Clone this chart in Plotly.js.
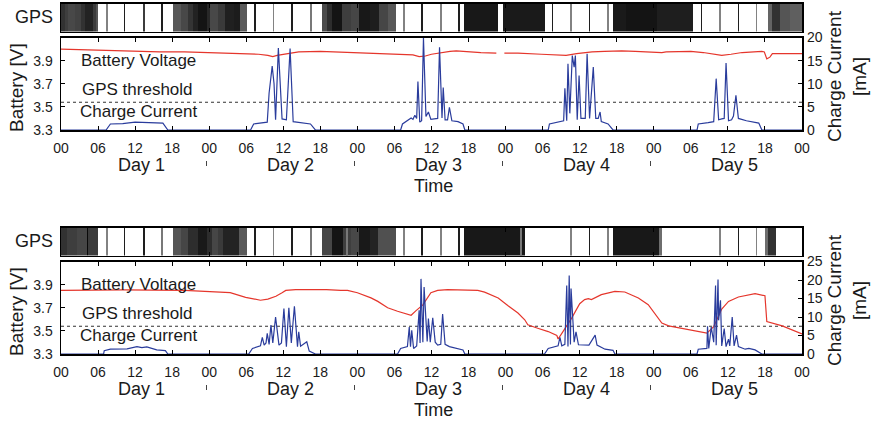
<!DOCTYPE html>
<html>
<head>
<meta charset="utf-8">
<script src="https://cdn.plot.ly/plotly-3.0.1.min.js"></script>
<style>html,body{margin:0;padding:0;background:#fff;}#chart{width:875px;height:421px;}</style>
</head>
<body>
<div id="chart"></div>
<script>
// ---------- DATA ----------
const hourLabels = ['00', '06', '12', '18'];
const dayNames = ['Day 1', 'Day 2', 'Day 3', 'Day 4', 'Day 5'];
const voltTicks = [3.3, 3.5, 3.7, 3.9];
const gpsThreshold = 3.54;

// GPS activity strip (top panel): dark blocks [start, end] in hours, grey level
const topBlockStart = [0, 0.6, 1.1, 2.2, 3.3, 3.9, 5.2, 5.6, 18.1, 19.4, 20.6, 21.4, 22.25, 23.6, 24.14, 25.4, 26.6, 28.0, 29.0, 42.2, 43.1, 43.9, 45.5, 47.0, 48.2, 50.0, 51.5, 53.0, 65.3, 71.5, 89.4, 91.5, 96.5, 114.5, 115.1, 116.4, 118.0];
const topBlockEnd   = [0.6, 1.1, 2.2, 3.3, 3.9, 5.2, 5.6, 6.0, 19.4, 20.6, 21.4, 22.25, 23.6, 24.14, 25.4, 26.6, 28.0, 29.0, 30.1, 43.1, 43.9, 45.5, 47.0, 48.2, 50.0, 51.5, 53.0, 54.2, 70.8, 78.3, 91.5, 96.5, 102.4, 115.1, 116.4, 118.0, 120];
const topBlockGray  = [50, 62, 72, 66, 50, 35, 60, 85, 88, 72, 52, 34, 20, 40, 72, 58, 32, 28, 90, 75, 45, 20, 62, 70, 24, 30, 70, 88, 24, 26, 26, 20, 30, 100, 50, 85, 95];
// short GPS fixes (thin lines)
const topFixTime = [7.4, 10.3, 13.4, 16.4, 31.4, 34.4, 37.4, 40.5, 55.5, 58.5, 61.5, 64.5, 79.6, 82.6, 85.6, 88.6, 103.7, 106.7, 109.7, 112.6];
const topFixGray = [130, 30, 60, 30, 30, 130, 30, 120, 130, 30, 130, 30, 30, 130, 30, 130, 30, 130, 30, 130];

// GPS activity strip (bottom panel)
const botBlockStart = [0, 1.0, 2.6, 4.3, 18.1, 19.4, 20.6, 22.2, 23.6, 24.4, 25.4, 26.3, 28.9, 42.3, 43.9, 45.6, 47.0, 48.2, 50.0, 51.4, 65.3, 89.4, 96.9, 114.0, 114.5];
const botBlockEnd   = [1.0, 2.6, 4.2, 6.0, 19.4, 20.6, 22.2, 23.6, 24.4, 25.4, 26.3, 28.9, 30.1, 43.9, 45.6, 47.0, 48.2, 50.0, 51.4, 54.2, 75.1, 96.9, 97.3, 114.5, 115.8];
const botBlockGray  = [50, 62, 70, 60, 85, 70, 45, 25, 45, 70, 58, 35, 90, 70, 20, 62, 72, 25, 35, 80, 24, 24, 110, 110, 50];
const botFixTime = [4.27, 7.4, 10.3, 13.4, 16.4, 31.4, 34.4, 37.4, 40.5, 46.3, 55.5, 58.5, 61.5, 64.5, 74.5, 82.6, 85.6, 88.6, 106.7, 109.7, 112.6];
const botFixGray = [10, 130, 30, 30, 120, 30, 130, 30, 120, 120, 130, 30, 130, 30, 120, 130, 30, 130, 130, 30, 130];

// Top panel battery voltage [V]
const topVoltHours = [0, 3, 6, 10, 13, 16, 20, 23, 27.5, 30, 32, 33.5, 34.3, 35, 36, 38.5, 42, 45, 47, 50, 52, 55, 57, 58, 59, 60, 61.5, 63, 64, 66, 68, 70.5, 71.1, 71.8, 74, 77.8, 80, 81.8, 83.5, 86, 88, 90.8, 93, 95, 97.3, 98, 102, 104, 106, 107, 108.5, 110.3, 113.5, 113.9, 114.3, 114.8, 115.2, 117, 120];
const topVoltValues = [4.0, 3.995, 3.99, 3.985, 3.98, 3.975, 3.975, 3.97, 3.965, 3.96, 3.955, 3.945, 3.935, 3.945, 3.955, 3.975, 3.98, 3.975, 3.97, 3.965, 3.96, 3.955, 3.95, 3.935, 3.94, 3.955, 3.97, 3.98, 3.985, 3.975, 3.97, 3.965, null, 3.965, 3.965, 3.955, 3.95, 3.945, 3.96, 3.975, 3.98, 3.985, 3.98, 3.975, 3.97, 3.975, 3.98, 3.97, 3.95, 3.945, 3.955, 3.97, 3.98, 3.975, 3.915, 3.93, 3.96, 3.96, 3.96];

// Top panel charge current [mA]
const topCurrHours = [0, 7.3, 8.0, 10, 12, 14, 16.5, 17.3,
  30.7, 31.2, 32.8, 33.4, 33.7, 34.2, 34.5, 34.75, 35.2, 35.8, 36.5, 37.1, 37.6, 39, 40.4, 41.2,
  55.0, 55.3, 56.3, 56.7, 57.0, 57.3, 57.6, 57.8, 58.1, 58.4, 58.7, 59.1, 59.5, 59.9, 61.0, 61.3, 61.7, 61.9, 62.2, 62.6, 62.9, 63.3, 64.3, 65.1, 65.4,
  78.9, 79.1, 79.9, 80.8, 81.4, 81.6, 81.9, 82.1, 82.4, 82.8, 83.1, 83.3, 83.6, 83.9, 84.2, 84.9, 85.2, 85.6, 86.2, 86.6, 87.0, 87.3, 87.5, 88.6, 89.4,
  103.0, 103.2, 104.8, 105.7, 106.1, 106.5, 107.0, 107.4, 107.7, 108.1, 108.6, 108.9, 109.3, 109.7, 111, 113.0, 113.5, 120];
const topCurrValues = [0, 0, 1.3, 1.4, 1.7, 1.6, 1.5, 0,
  0, 1.3, 1.5, 1.7, 8, 13.8, 10, 2.2, 17.7, 2.4, 2.2, 17.6, 1.8, 1.5, 1.3, 0,
  0, 1.3, 2.2, 2.6, 2.3, 3.2, 2.5, 10.5, 1.7, 2.0, 19.9, 2.9, 3.9, 2.3, 2.5, 17.9, 2.6, 9.2, 2.2, 2.2, 4.9, 2.0, 1.8, 1.3, 0,
  0, 1.3, 1.5, 1.7, 2.0, 9.0, 2.0, 14.3, 3.6, 16.1, 13.6, 16.1, 2.2, 11.8, 2.5, 2.5, 16.5, 2.5, 13.6, 2.5, 2.5, 3.9, 1.8, 1.3, 0,
  0, 1.3, 1.6, 1.8, 11.1, 2.2, 2.4, 2.5, 14.5, 2.0, 2.2, 3.0, 7.5, 2.5, 2.0, 1.5, 0, 0];

// Bottom panel battery voltage [V]
const botVoltHours = [0, 10, 20, 25, 27.4, 29.9, 31, 32.3, 33.5, 34.8, 35.8, 36.4, 38, 43, 45.3, 46.4, 48, 50.2, 51.3, 52.9, 54.5, 56.4, 56.7, 57.5, 58.6, 59.9, 61, 62.6, 67.5, 68.6, 70.8, 72.4, 74, 75.1, 75.6, 77.2, 78.9, 80.3, 80.5, 81, 82.7, 84, 84.8, 85.4, 85.9, 87.5, 89.7, 91.3, 93.5, 95.1, 97.3, 98.4, 100.5, 102.7, 104.6, 105.7, 107, 108.1, 109.7, 112.4, 114, 114.3, 116.8, 120];
const botVoltValues = [3.85, 3.855, 3.85, 3.84, 3.83, 3.79, 3.78, 3.765, 3.775, 3.80, 3.83, 3.85, 3.857, 3.857, 3.85, 3.85, 3.83, 3.785, 3.755, 3.70, 3.67, 3.645, 3.635, 3.675, 3.725, 3.83, 3.85, 3.857, 3.85, 3.835, 3.785, 3.717, 3.654, 3.596, 3.552, 3.523, 3.494, 3.46, 3.43, 3.47, 3.61, 3.735, 3.77, 3.778, 3.77, 3.813, 3.842, 3.836, 3.784, 3.726, 3.567, 3.543, 3.523, 3.503, 3.48, 3.537, 3.689, 3.755, 3.793, 3.822, 3.804, 3.581, 3.543, 3.474];

// Bottom panel charge current [mA]
const botCurrHours = [0, 6.9, 7.0, 8, 10.7, 12.3, 13.1, 13.9, 15.5, 16.9, 17.3,
  30.4, 31.0, 32.0, 32.3, 32.6, 32.9, 33.2, 33.4, 33.7, 34.0, 34.3, 34.75, 35.3, 35.7, 36.1, 36.5, 36.9, 37.3, 37.8, 38.3, 38.5, 38.8, 39.3, 39.8, 40.2, 41.2,
  54.5, 55.0, 56.1, 56.4, 56.6, 56.8, 57.1, 57.6, 58.0, 58.15, 58.3, 58.6, 58.8, 59.3, 59.5, 59.8, 60.2, 60.6, 61.0, 61.5, 61.8, 62.2, 62.9, 64.3, 65.1, 65.4,
  78.3, 78.9, 80.5, 80.8, 81.1, 81.6, 81.9, 82.1, 82.3, 82.5, 82.6, 83.1, 83.4, 83.8, 84.5, 85.5, 86.5, 86.8, 88.1, 89.4, 89.7,
  103.0, 103.2, 104.6, 104.7, 104.9, 105.3, 105.7, 106.0, 106.1, 106.4, 106.5, 106.8, 107.0, 107.4, 107.7, 108.1, 108.3, 108.7, 109.0, 109.4, 109.7, 110.8, 111.4, 112.4, 113.5, 120];
const botCurrValues = [0, 0, 0.9, 1.3, 1.4, 2.0, 1.7, 1.9, 1.1, 0.9, 0,
  0, 1.5, 2.0, 2.2, 4.5, 2.4, 3.0, 5.6, 2.6, 7.8, 3.0, 10, 2.4, 3.0, 12.3, 2.0, 12.5, 3.0, 12.9, 2.0, 6.0, 2.1, 2.7, 3.3, 0.8, 0,
  0, 1.5, 2.0, 7.3, 2.0, 6.4, 1.5, 2.2, 11.8, 3.0, 20.3, 3.2, 18.1, 3.4, 9.6, 3.2, 9.8, 3.2, 2.4, 2.6, 10.8, 2.6, 2.0, 1.5, 1.1, 0,
  0, 1.5, 2.2, 4.5, 2.2, 2.6, 18.5, 2.0, 21.2, 2.6, 17.7, 3.2, 6.0, 2.5, 2.4, 2.4, 5.1, 2.4, 1.3, 1.0, 0,
  0, 1.3, 1.5, 7.5, 1.5, 7.3, 3.2, 18.5, 2.4, 20.1, 9.1, 14.5, 2.2, 6.9, 2.0, 4.0, 2.2, 10.0, 2.2, 5.1, 2.0, 1.3, 1.5, 1.1, 0, 0];

// ---------- LAYOUT HELPERS ----------
const W = 875, H = 421;
const px = p => p / W;
const py = p => 1 - p / H;
const FONT = 'Liberation Sans, Arial, Helvetica, sans-serif';
const INK = '#1a1a1a';
const RED = '#e5362c';
const BLUE = '#2a3c9c';
const PANEL_SHIFT = 224; // vertical offset (px) between the two panels

const hourTickVals = [];
const hourTickText = [];
for (let h = 0; h <= 120; h += 6) { hourTickVals.push(h); hourTickText.push(hourLabels[(h / 6) % hourLabels.length]); }
const dayBoundaries = dayNames.map((_, i) => i).concat([dayNames.length]);

function gray(g) { return 'rgb(' + g + ',' + g + ',' + g + ')'; }

function stripTraces(bs, be, bg, ft, fg, xa, ya) {
  const fixLen = 0.26;
  return [
    { type: 'bar', orientation: 'h', base: bs, x: be.map((e, i) => e - bs[i]), y: bs.map(() => 0), width: 1,
      marker: { color: bg.map(gray), line: { width: 0 } }, xaxis: xa, yaxis: ya, hoverinfo: 'skip' },
    { type: 'bar', orientation: 'h', base: ft.map(t => t - fixLen / 2), x: ft.map(() => fixLen), y: ft.map(() => 0), width: 1,
      marker: { color: fg.map(gray), line: { width: 0 } }, xaxis: xa, yaxis: ya, hoverinfo: 'skip' }
  ];
}

function mainTraces(vh, vv, ch, cv, xa, yl, yr) {
  return [
    { type: 'scatter', mode: 'lines', x: [0, 120], y: [gpsThreshold, gpsThreshold], xaxis: xa, yaxis: yl,
      line: { color: '#333', width: 1.1, dash: 'dot' }, hoverinfo: 'skip' },
    { type: 'scatter', mode: 'lines', x: vh, y: vv, xaxis: xa, yaxis: yl, connectgaps: false,
      line: { color: RED, width: 1.2 }, hoverinfo: 'skip' },
    { type: 'scatter', mode: 'lines', x: ch, y: cv, xaxis: xa, yaxis: yr,
      line: { color: BLUE, width: 1.2 }, hoverinfo: 'skip' }
  ];
}

const data = [].concat(
  stripTraces(topBlockStart, topBlockEnd, topBlockGray, topFixTime, topFixGray, 'x', 'y'),
  mainTraces(topVoltHours, topVoltValues, topCurrHours, topCurrValues, 'x2', 'y2', 'y3'),
  stripTraces(botBlockStart, botBlockEnd, botBlockGray, botFixTime, botFixGray, 'x3', 'y4'),
  mainTraces(botVoltHours, botVoltValues, botCurrHours, botCurrValues, 'x4', 'y5', 'y6'),
  [{ type: 'scatter', mode: 'markers', x: [0], y: [0], xaxis: 'x5', yaxis: 'y2', marker: { opacity: 0 }, hoverinfo: 'skip' },
   { type: 'scatter', mode: 'markers', x: [0], y: [0], xaxis: 'x6', yaxis: 'y5', marker: { opacity: 0 }, hoverinfo: 'skip' }]
);

const xDom = [px(61), px(802)];
const frame = { showline: true, linecolor: '#000', linewidth: 1.5, mirror: true, showgrid: false, zeroline: false, fixedrange: true };
const tickFont = { family: FONT, size: 14, color: INK };

function stripX(anchor) {
  return Object.assign({}, frame, { domain: xDom, anchor: anchor, range: [0, 120], tickvals: [24, 48, 72, 96],
    ticks: 'inside', ticklen: 4, tickwidth: 1, tickcolor: '#000', mirror: 'ticks', showticklabels: false });
}
function stripY(anchor, top) {
  return Object.assign({}, frame, { domain: [py(top + 28), py(top)], anchor: anchor, range: [-0.5, 0.5], showticklabels: false, ticks: '' });
}
function mainX(anchor) {
  return Object.assign({}, frame, { domain: xDom, anchor: anchor, range: [0, 120], tickvals: hourTickVals, ticktext: hourTickText,
    ticks: 'inside', ticklen: 4, tickwidth: 1, tickcolor: '#000', mirror: 'ticks', tickfont: tickFont, ticklabelstandoff: 5 });
}
function mainYL(anchor, top, bottom) {
  return Object.assign({}, frame, { domain: [py(bottom), py(top)], anchor: anchor, range: [3.3, 4.1], tickvals: voltTicks,
    ticktext: voltTicks.map(v => v.toFixed(1)), ticks: 'inside', ticklen: 4, tickwidth: 1, tickcolor: '#000', tickfont: tickFont, ticklabelstandoff: 4 });
}
function mainYR(anchor, over, maxVal) {
  return { overlaying: over, side: 'right', anchor: anchor, range: [0, maxVal], dtick: 5, tick0: 0, showgrid: false, zeroline: false,
    ticks: 'inside', ticklen: 4, tickwidth: 1, tickcolor: '#000', tickfont: tickFont, showline: false, fixedrange: true, ticklabelstandoff: 4 };
}
function dayAxis(yPos) {
  return { domain: [px(57.7), px(799.3)], anchor: 'free', position: py(yPos), range: [0, dayNames.length], tickvals: dayBoundaries,
    ticks: 'inside', ticklen: 5, tickwidth: 1, tickcolor: '#444', showticklabels: false, showline: false, showgrid: false, zeroline: false, fixedrange: true };
}

const annotations = [];
function txt(text, x, y, size, extra) {
  annotations.push(Object.assign({ text: text, xref: 'paper', yref: 'paper', x: px(x), y: py(y), showarrow: false,
    xanchor: 'center', yanchor: 'middle', font: { family: FONT, size: size, color: INK } }, extra || {}));
}
[0, PANEL_SHIFT].forEach((s, k) => {
  txt('GPS', 34, 17 + s, 18);
  txt('Battery [V]', 16, 88 + s, 19, { textangle: -90 });
  txt('Charge Current<br>[mA]', 847, 76 + s, 19, { textangle: -90 });
  txt('Battery Voltage', 79, 60 + s, 17, { xanchor: 'left' });
  txt('GPS threshold', 80, 89 + s, 17, { xanchor: 'left' });
  txt('Charge Current', 78, 111.5 + s, 17, { xanchor: 'left' });
  dayNames.forEach((d, i) => {
    annotations.push({ text: d, xref: k === 0 ? 'x2' : 'x4', yref: 'paper', x: 24 * i + 13.1, y: py(164.5 + s), showarrow: false,
      xanchor: 'center', yanchor: 'middle', font: { family: FONT, size: 18, color: INK } });
  });
  txt('Time', 433.5, 186 + s, 18);
});

const layout = {
  width: W, height: H, margin: { l: 0, r: 0, t: 0, b: 0, pad: 0 },
  paper_bgcolor: '#fff', plot_bgcolor: 'rgba(0,0,0,0)', showlegend: false,
  barmode: 'overlay', bargap: 0,
  font: { family: FONT, color: INK },
  xaxis: stripX('y'), yaxis: stripY('x', 3.5),
  xaxis2: mainX('y2'), yaxis2: mainYL('x2', 37.5, 130), yaxis3: mainYR('x2', 'y2', 20),
  xaxis3: stripX('y4'), yaxis4: stripY('x3', 3.5 + PANEL_SHIFT),
  xaxis4: mainX('y5'), yaxis5: mainYL('x4', 37.5 + PANEL_SHIFT, 130 + PANEL_SHIFT), yaxis6: mainYR('x4', 'y5', 25),
  xaxis5: dayAxis(166), xaxis6: dayAxis(166 + PANEL_SHIFT),
  annotations: annotations
};

Plotly.newPlot('chart', data, layout, { staticPlot: true, displayModeBar: false });
</script>
</body>
</html>
